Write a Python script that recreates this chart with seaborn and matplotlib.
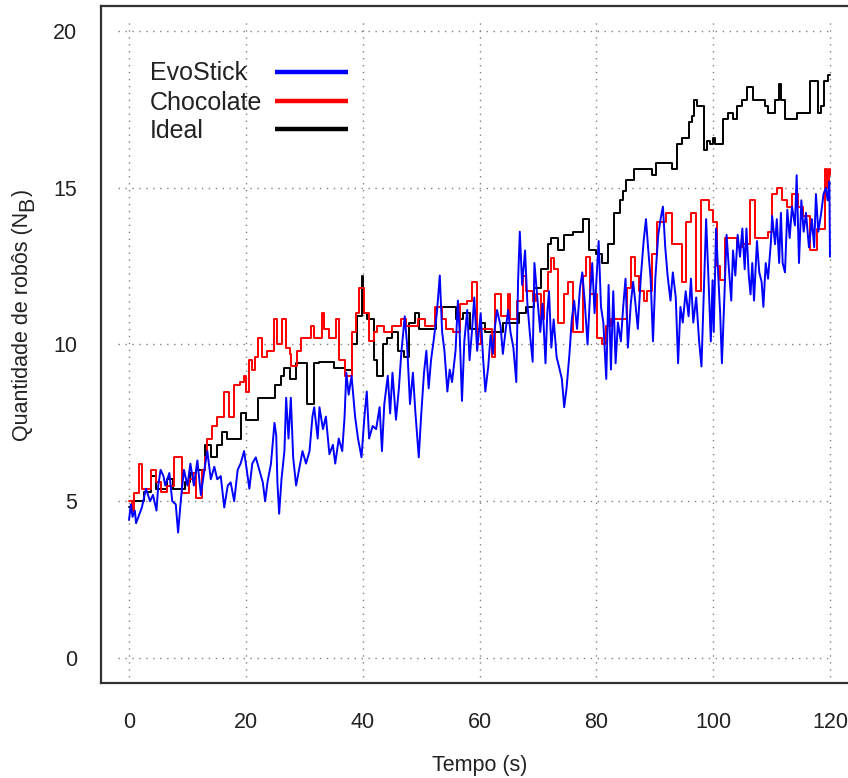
import numpy as np
import pandas as pd
import matplotlib
matplotlib.use("Agg")
import matplotlib.pyplot as plt
import seaborn as sns
from matplotlib.lines import Line2D

# ---------------- data ----------------
series_names = ["EvoStick", "Chocolate", "Ideal"]
series_colors = ["#0000FF", "#FF0000", "#000000"]

x_ticks = [0, 20, 40, 60, 80, 100, 120]
y_ticks = [0, 5, 10, 15, 20]

# Ideal (black) - step changes: start time, value
ideal_t = [0, 0.5, 2.5, 3.8, 4.6, 6.5, 7.5, 9.5, 10.5, 11.5, 13.0, 14.0, 15.0, 16.0, 16.8,
           19.2, 20, 22, 25, 26, 26.6, 27.5, 28.6, 30.5, 31.7, 32.6, 35.1, 37.0, 38.2, 39,
           39.8, 40.1, 40.8, 42.0, 42.4, 43.4, 44.2, 45, 46, 47, 48, 49, 49.7, 52.6, 56,
           57.2, 58.3, 60, 61, 64, 66.7, 68, 69.3, 70.5, 71.7, 72.2, 73.5, 74.4, 76, 77.7,
           78.7, 80, 81, 82, 83, 84, 84.6, 85, 86.4, 89.5, 90.2, 93, 93.8, 94.6, 95.8, 96.3,
           96.7, 97.2, 98.4, 99, 99.4, 100, 100.4, 101.7, 102.5, 103.4, 104, 105, 105.8,
           106.8, 108.9, 109.4, 110.6, 111.3, 111.6, 112.3, 114.3, 116.6, 118, 118.5, 119,
           119.6, 120]
ideal_v = [4.8, 5.0, 5.3, 5.8, 5.4, 5.7, 5.4, 5.6, 5.9, 6.0, 6.8, 6.4, 6.8, 7.2, 7.0,
           7.8, 7.6, 8.3, 8.7, 9.0, 9.25, 8.9, 9.4, 8.1, 9.4, 9.45, 9.25, 9.2, 10.0, 10.9,
           12.2, 11.0, 10.8, 9.5, 9.0, 10.0, 10.2, 10.4, 9.8, 9.6, 10.7, 11.0, 10.5, 11.2, 10.8,
           11.0, 10.5, 10.7, 10.4, 10.7, 11.0, 11.2, 11.8, 12.4, 13.2, 13.4, 13.0, 13.5, 13.6, 14.0,
           13.0, 12.9, 12.6, 13.2, 14.2, 14.6, 14.9, 15.25, 15.6, 15.4, 15.8, 15.6, 16.4, 16.6, 17.1, 17.3,
           17.8, 17.6, 16.2, 16.5, 16.4, 16.6, 16.4, 17.2, 17.4, 17.2, 17.6, 17.8, 18.2,
           17.8, 17.6, 17.4, 17.8, 18.3, 17.8, 17.2, 17.4, 18.4, 17.4, 17.6, 18.4,
           18.6, 18.6]

# Chocolate (red) - step changes: start time, value
choc_t = [0, 0.5, 0.9, 1.7, 2.2, 3.8, 4.6, 5.5, 6.5, 7.7, 9.1, 10.3, 11.0, 11.5, 12.5, 13.0,
          13.4, 14.2, 15.1, 16.3, 17.1, 18.0, 19.0, 19.7, 20.1, 20.6, 21.1, 21.5, 22, 22.8,
          23.7, 24.9, 25.4, 26.2, 26.9, 27.5, 27.8, 28.8, 29.5, 31.2, 31.7, 33, 33.4, 34.3,
          35.4, 36, 36.9, 38.2, 38.8, 39.4, 40.3, 41.1, 42, 42.5, 43.7, 45.1, 46.6, 47.5,
          49.4, 50.6, 52.3, 53.5, 54.3, 55.4, 56.6, 57.8, 58.8, 59.6, 60.2, 62.2, 62.7, 63.6,
          64.8, 65.3, 66.5, 67.4, 67.9, 69.1, 69.6, 70.5, 71, 71.7, 72.2, 72.7, 73.5, 74.4,
          75.2, 76, 77.7, 78.2, 79, 80.1, 81, 81.6, 82.5, 85.2, 85.9, 86.7, 87.3, 88.1, 88.7,
          89.5, 90.4, 92, 93, 94.6, 95.3, 96.2, 97, 97.9, 99.3, 100, 100.6, 101.2, 102, 104,
          105.1, 106.3, 107.1, 109.4, 110, 111, 111.8, 112.6, 113.5, 114.5, 115.4, 116.6,
          117.8, 119.1, 119.5, 119.8, 120]
choc_v = [5.0, 4.7, 5.25, 6.2, 5.4, 6.0, 5.6, 5.3, 5.5, 6.4, 5.25, 5.7, 5.9, 5.1, 6.0, 6.4,
          7.0, 7.4, 7.7, 8.5, 7.7, 8.7, 8.8, 9.0, 8.5, 9.5, 9.2, 9.6, 10.2, 9.6,
          9.8, 10.8, 10.0, 10.8, 9.9, 9.7, 9.3, 9.8, 10.2, 10.6, 10.2, 11.0, 10.5, 10.2,
          10.8, 9.5, 9.0, 10.4, 11.0, 11.8, 11.0, 10.1, 10.4, 10.6, 10.4, 10.6, 10.8, 10.6,
          10.8, 10.6, 11.2, 10.8, 10.5, 10.4, 11.3, 11.4, 12.0, 10.0, 10.5, 9.6, 11.6, 10.9,
          11.6, 10.8, 11.4, 12.2, 11.7, 11.4, 11.6, 10.8, 11.7, 12.3, 12.75, 12.4, 10.7, 11.6,
          12.0, 10.4, 12.2, 12.8, 11.6, 10.2, 10.0, 10.6, 10.8, 11.8, 12.8, 12.2, 11.7, 11.4, 11.7,
          12.9, 13.9, 14.2, 13.2, 12.0, 13.9, 14.2, 11.7, 14.6, 14.3, 13.9, 12.5, 12.05, 13.4, 13.1,
          13.2, 14.6, 13.4, 13.6, 14.8, 15.0, 14.6, 14.4, 14.8, 14.4, 14.1, 13.0,
          13.7, 15.6, 15.0, 15.6, 15.4]

# EvoStick (blue) - sampled points
evo_t = [0.0, 0.3, 0.6, 1.0, 1.2, 1.6, 2.2, 2.9, 3.6, 4.1, 4.7, 5.0, 5.4, 5.9, 6.2, 6.9, 7.4,
         8.0, 8.4, 8.9, 9.4, 10.0, 10.5, 11.1, 11.7, 12.3, 12.9, 13.4, 14.0, 14.6, 15.1, 15.7,
         16.3, 16.9, 17.4, 18.0, 18.6, 19.1, 19.7, 20.3, 20.6, 21.1, 21.7, 22.3, 22.9, 23.3,
         23.7, 24.3, 24.9, 25.2, 25.4, 25.7, 26.1, 26.6, 26.9, 27.3, 27.7, 28.1, 28.6, 29.2,
         29.7, 30.3, 30.9, 31.4, 31.7, 32.3, 32.6, 33.2, 33.7, 34.3, 34.9, 35.3, 35.9, 36.5,
         36.9, 37.2, 37.6, 38.1, 38.7, 39.2, 39.8, 40.3, 40.7, 41.1, 41.7, 42.3, 42.9, 43.3,
         43.7, 44.3, 44.7, 45.1, 45.7, 46.2, 46.6, 47.2, 47.6, 48.1, 48.6, 49.0, 49.6, 50.0,
         50.5, 50.9, 51.3, 51.7, 52.2, 52.7, 53.2, 53.6, 54.0, 54.5, 54.9, 55.3, 55.9, 56.3,
         56.6, 57.0, 57.4, 57.9, 58.3, 58.7, 59.1, 59.6, 60.2, 60.6, 61.0, 61.5, 61.9, 62.3,
         62.6, 63.0, 63.6, 64.0, 64.5, 64.9, 65.3, 65.8, 66.3, 66.6, 66.9, 67.3, 67.8, 68.2,
         68.6, 69.1, 69.4, 70.0, 70.4, 70.8, 71.3, 71.6, 71.9, 72.3, 72.7, 73.2, 73.6, 74.1,
         74.5, 74.9, 75.4, 75.8, 76.2, 76.7, 77.2, 77.6, 78.0, 78.5, 78.9, 79.3, 79.7, 80.0,
         80.4, 80.8, 81.2, 81.7, 82.1, 82.5, 82.9, 83.3, 83.7, 84.2, 84.6, 85.0, 85.4, 85.9,
         86.3, 86.7, 87.1, 87.6, 88.1, 88.5, 88.9, 89.3, 89.7, 90.1, 90.6, 91.0, 91.4, 91.8,
         92.2, 92.7, 93.1, 93.6, 94.0, 94.4, 94.8, 95.3, 95.8, 96.2, 96.6, 97.1, 97.6, 98.0,
         98.4, 98.8, 99.2, 99.6, 99.9, 100.1, 100.5, 100.9, 101.2, 101.5, 101.9, 102.3, 102.7,
         103.1, 103.4, 103.8, 104.2, 104.6, 105.0, 105.4, 105.7, 106.1, 106.4, 106.7, 107.0,
         107.5, 107.9, 108.3, 108.6, 109.0, 109.4, 109.9, 110.1, 110.6, 110.9, 111.3, 111.6,
         111.9, 112.3, 112.7, 113.1, 113.5, 114.0, 114.3, 114.7, 115.1, 115.5, 115.9, 116.4,
         116.9, 117.3, 117.6, 118.0, 118.5, 118.9, 119.3, 119.6, 119.9, 120.0]
evo_v = [4.4, 4.9, 4.5, 4.7, 4.3, 4.5, 4.8, 5.4, 5.0, 5.2, 4.7, 5.5, 6.0, 5.8, 5.5, 5.9, 5.0,
         4.9, 4.0, 5.1, 6.0, 5.5, 6.2, 5.5, 6.3, 5.2, 6.0, 6.6, 5.7, 6.1, 5.7, 5.8,
         4.8, 5.5, 5.6, 5.0, 6.0, 6.2, 6.6, 5.8, 5.4, 6.2, 6.4, 6.0, 5.6, 5.0,
         5.6, 6.2, 7.5, 7.1, 5.6, 4.6, 5.7, 6.6, 8.3, 7.0, 8.3, 6.4, 5.5, 6.1,
         6.6, 6.2, 6.6, 7.7, 8.0, 7.0, 8.0, 7.3, 7.7, 6.5, 6.8, 6.2, 7.0, 6.6,
         7.7, 9.1, 8.4, 9.0, 7.7, 7.0, 6.4, 7.7, 8.5, 7.0, 7.4, 7.3, 8.0, 6.6,
         8.1, 9.0, 7.8, 9.1, 7.6, 8.6, 9.7, 10.9, 10.0, 8.1, 9.1, 7.9, 6.4, 7.7,
         9.1, 9.8, 8.6, 9.5, 10.2, 11.0, 12.2, 10.4, 9.8, 8.5, 9.2, 8.8, 9.8, 11.4,
         10.4, 8.2, 10.1, 11.1, 9.5, 10.4, 11.5, 9.8, 11.0, 9.6, 8.5, 9.3, 10.3, 9.7,
         10.5, 11.1, 10.6, 9.7, 10.5, 11.1, 10.4, 9.9, 8.8, 12.0, 13.6, 11.9, 13.0, 11.3,
         10.4, 9.45, 12.6, 11.3, 10.4, 11.3, 9.4, 11.0, 11.7, 9.9, 10.8, 9.6, 9.3, 8.9,
         8.0, 8.6, 9.7, 10.8, 11.4, 10.5, 11.8, 12.3, 11.4, 10.0, 11.5, 12.6, 11.0, 12.0,
         13.3, 11.2, 10.7, 8.9, 11.9, 9.2, 11.7, 9.4, 10.7, 10.1, 11.2, 12.1, 9.9, 11.3,
         12.0, 11.3, 10.5, 12.1, 13.3, 14.0, 13.0, 12.1, 10.1, 12.1, 13.5, 14.0, 14.4, 13.1,
         12.2, 11.4, 12.3, 11.5, 9.4, 11.2, 10.7, 11.7, 10.9, 12.1, 10.7, 11.5, 10.1, 9.3,
         11.7, 14.0, 12.1, 10.1, 12.05, 10.4, 13.7, 12.1, 11.0, 9.4, 11.4, 13.5, 12.4,
         11.4, 13.0, 12.2, 13.5, 12.8, 13.7, 12.4, 13.7, 12.2, 11.6, 12.6, 11.4,
         13.3, 12.3, 12.0, 11.2, 12.6, 12.1, 13.3, 14.1, 13.2, 14.0, 12.6, 14.2,
         12.6, 12.3, 14.3, 13.4, 14.4, 13.8, 15.4, 12.6, 14.6, 13.6, 14.2, 13.1,
         14.0, 13.1, 14.8, 13.6, 14.2, 14.8, 15.0, 14.6, 15.2, 12.8]

x_label = "Tempo (s)"
y_label_main = "Quantidade de robôs (N"
y_label_sub = "B"
y_label_end = ")"

# ---------------- styling ----------------
sns.set_style("white")
plt.rcParams["font.family"] = ["Liberation Sans", "DejaVu Sans"]

W, H = 848, 778
fig = plt.figure(figsize=(W / 100, H / 100), dpi=100)
ax = fig.add_axes([101 / W, 95 / H, 757 / W, 677 / H])

# grid (dotted, R style)
ax.hlines(y_ticks, -1.9, 120, colors="#808080", linestyles=(0, (1, 4)), linewidth=1.0, zorder=0)
ax.vlines(x_ticks, -0.6, 20.3, colors="#808080", linestyles=(0, (1, 4)), linewidth=1.0, zorder=0)

df_ideal = pd.DataFrame({"t": ideal_t, "v": ideal_v})
df_choc = pd.DataFrame({"t": choc_t, "v": choc_v})
df_evo = pd.DataFrame({"t": evo_t, "v": evo_v})

sns.lineplot(data=df_ideal, x="t", y="v", ax=ax, color=series_colors[2], lw=1.4,
             drawstyle="steps-post", estimator=None, legend=False)
sns.lineplot(data=df_choc, x="t", y="v", ax=ax, color=series_colors[1], lw=1.4,
             drawstyle="steps-post", estimator=None, legend=False)
sns.lineplot(data=df_evo, x="t", y="v", ax=ax, color=series_colors[0], lw=1.4,
             estimator=None, legend=False)

ax.set_xlim(-4.8, 124.8)
ax.set_ylim(-0.8, 20.8)
ax.set_xticks(x_ticks)
ax.set_yticks(y_ticks)
ax.tick_params(axis="both", direction="out", length=9, width=1.3, color="#333333",
               labelsize=15.5, labelcolor="#222222")
ax.tick_params(axis="x", pad=12)
ax.tick_params(axis="y", pad=8)
for s in ax.spines.values():
    s.set_color("#333333")
    s.set_linewidth(1.6)

ax.set_xlabel(x_label, fontsize=15.5, color="#222222", labelpad=16)
ax.set_ylabel("")

# manual legend (text left, line to the right, R style)
leg_y = [72, 101, 129]
for name, col, yc in zip(series_names, series_colors, leg_y):
    fig.text(150 / W, 1 - (yc + 8.5) / H, name, fontsize=18, color="#222222",
             ha="left", va="baseline")
    fig.add_artist(Line2D([275 / W, 348 / W], [1 - yc / H, 1 - yc / H],
                          transform=fig.transFigure, color=col, lw=3.2,
                          solid_capstyle="butt"))

# y label with full-size subscript B
fs_y = 15.5
base_x = 28 / W
t1 = fig.text(base_x, 1 - 441 / H, y_label_main, rotation=90, rotation_mode="anchor",
              ha="left", va="baseline", fontsize=fs_y, color="#222222")
fig.canvas.draw()
r = fig.canvas.get_renderer()
bb = t1.get_window_extent(renderer=r)
t2 = fig.text(base_x + 5 / W, bb.y1 / H + 1 / H, y_label_sub, rotation=90, rotation_mode="anchor",
              ha="left", va="baseline", fontsize=fs_y, color="#222222")
fig.canvas.draw()
bb2 = t2.get_window_extent(renderer=r)
fig.text(base_x, bb2.y1 / H + 1 / H, y_label_end, rotation=90, rotation_mode="anchor",
         ha="left", va="baseline", fontsize=fs_y, color="#222222")

fig.savefig("out.png", dpi=100)
